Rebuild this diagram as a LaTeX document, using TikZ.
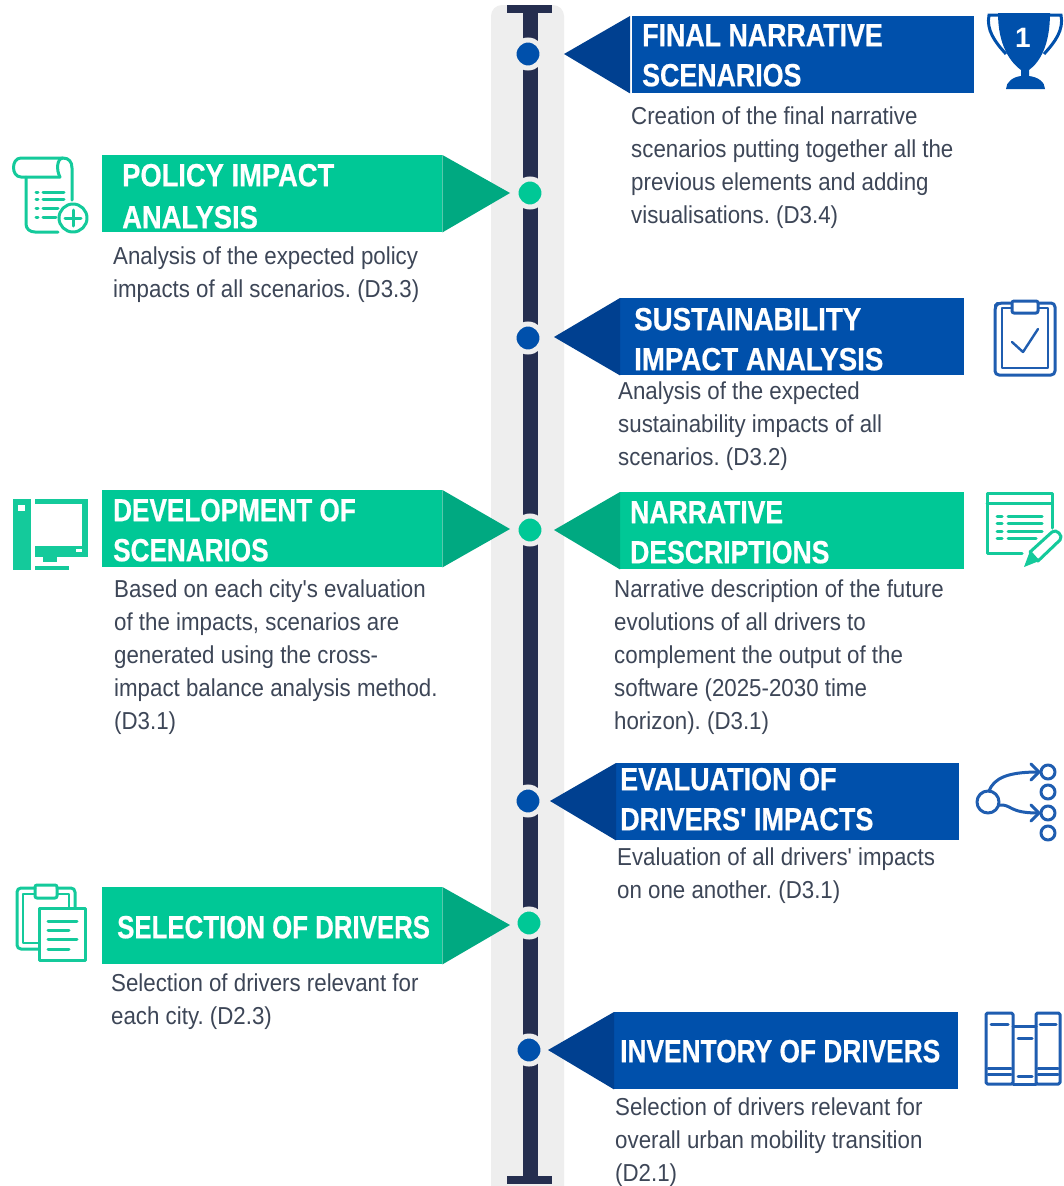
\documentclass[tikz,border=0pt]{standalone}
\usepackage{fontspec}
\setmainfont{Liberation Sans}
\newfontfamily\ttlfont[FakeBold=0.6]{Liberation Sans}
\newfontfamily\bodyfont[FakeStretch=0.91]{Liberation Sans}
\definecolor{bluemain}{HTML}{0050AB}
\definecolor{bluedark}{HTML}{004090}
\definecolor{greenmain}{HTML}{00C896}
\definecolor{greendark}{HTML}{00A981}
\definecolor{spinecol}{HTML}{252E4F}
\definecolor{bandcol}{HTML}{EEEEEE}
\definecolor{bodycol}{HTML}{3D4657}
\definecolor{iconblue}{HTML}{1F5DB0}
\definecolor{icongreen}{HTML}{14CA9B}
\tikzset{
  x=1pt,y=-1pt,
  spineline/.style={draw=spinecol,line width=15pt},
  capline/.style={draw=spinecol,line width=8pt},
  dotblue/.style={circle,fill=bluemain,draw=bandcol,line width=5pt,minimum size=28pt,inner sep=0pt},
  dotgreen/.style={circle,fill=greenmain,draw=bandcol,line width=5pt,minimum size=28pt,inner sep=0pt},
  bannerbox/.style={anchor=north west,minimum width=#1,minimum height=77pt,inner sep=0pt},
  blueban/.style={bannerbox=#1,fill=bluemain},
  greenban/.style={bannerbox=#1,fill=greenmain},
  titletext/.style={anchor=north west,inner sep=0pt,text=white,align=left,
    font=\ttlfont\bfseries\addfontfeature{FakeStretch=#1}\fontsize{32}{40}\selectfont},
  desctext/.style={anchor=north west,inner sep=0pt,text=bodycol,align=left,
    font=\bodyfont\fontsize{24.5}{33}\selectfont\frenchspacing},
  blueicon/.style={draw=iconblue,line width=3pt,line join=round,line cap=round},
  greenicon/.style={draw=icongreen,line width=3pt,line join=round,line cap=round},
}
% first-line struts: fix the top of each text at baseline minus strut height
\newcommand{\tst}{\rule{0pt}{26pt}}
\newcommand{\dst}{\rule{0pt}{20pt}}
\begin{document}
\begin{tikzpicture}
\useasboundingbox (0,0) rectangle (1063,1186);
\fill[white] (0,0) rectangle (1063,1186);
% central band
\fill[bandcol,rounded corners=11pt] (491,5) rectangle (564,1200);
% spine
\coordinate (spinetop) at (530,9);
\coordinate (spinebot) at (530,1180);
\coordinate (captl) at (507,9);
\coordinate (captr) at (552,9);
\coordinate (capbl) at (507,1180);
\coordinate (capbr) at (552,1180);
\draw[spineline] (spinetop) -- (spinebot);
\draw[capline] (captl) -- (captr);
\draw[capline] (capbl) -- (capbr);
\node[dotblue] (d1) at (528,54) {};
\node[dotgreen] (d2) at (530,193) {};
\node[dotblue] (d3) at (528,338) {};
\node[dotgreen] (d4) at (530,530) {};
\node[dotblue] (d5) at (528,801) {};
\node[dotgreen] (d6) at (529,923) {};
\node[dotblue] (d7) at (529,1050) {};

% banners
\node[blueban=342pt] (b1) at (632,16) {};
\fill[bluedark] (b1.north west)++(-2,0) -- (564,54) -- ([xshift=-2pt]b1.south west) -- cycle;
\node[titletext=0.837] (t1) at (642,20) {\tst FINAL NARRATIVE\\SCENARIOS};
\node[desctext] (x1) at (631,104) {\dst Creation of the final narrative\\scenarios putting together all the\\previous elements and adding\\visualisations. (D3.4)};

\node[greenban=340pt] (b2) at (102,155) {};
\fill[greendark] (b2.north east) -- (510,193) -- (b2.south east) -- cycle;
\node[titletext=0.854] (t2) at (122,160) {\tst POLICY IMPACT\\[2pt]ANALYSIS};
\node[desctext] (x2) at (113,244) {\dst Analysis of the expected policy\\impacts of all scenarios. (D3.3)};

\node[blueban=344pt] (b3) at (620,298) {};
\fill[bluedark] (b3.north west) -- (554,337) -- (b3.south west) -- cycle;
\node[titletext=0.865] (t3) at (634,304) {\tst SUSTAINABILITY\\IMPACT ANALYSIS};
\node[desctext] (x3) at (618,379) {\dst Analysis of the expected\\sustainability impacts of all\\scenarios. (D3.2)};

\node[greenban=344pt] (b4) at (620,492) {};
\fill[greendark] (b4.north west) -- (554,530) -- (b4.south west) -- cycle;
\node[titletext=0.83] (t4) at (630,497) {\tst NARRATIVE\\DESCRIPTIONS};
\node[desctext] (x4) at (614,577) {\dst Narrative description of the future\\evolutions of all drivers to\\complement the output of the\\software (2025-2030 time\\horizon). (D3.1)};

\node[greenban=340pt] (b5) at (102,490) {};
\fill[greendark] (b5.north east) -- (510,529) -- (b5.south east) -- cycle;
\node[titletext=0.817] (t5) at (113,495) {\tst DEVELOPMENT OF\\SCENARIOS};
\node[desctext] (x5) at (114,577) {\dst Based on each city's evaluation\\of the impacts, scenarios are\\generated using the cross-\\impact balance analysis method.\\(D3.1)};

\node[blueban=343pt] (b6) at (616,763) {};
\fill[bluedark] (b6.north west) -- (550,801) -- (b6.south west) -- cycle;
\node[titletext=0.843] (t6) at (620,764) {\tst EVALUATION OF\\DRIVERS' IMPACTS};
\node[desctext] (x6) at (617,845) {\dst Evaluation of all drivers' impacts\\on one another. (D3.1)};

\node[greenban=340pt] (b7) at (102,887) {};
\fill[greendark] (b7.north east) -- (510,925) -- (b7.south east) -- cycle;
\node[titletext=0.807] (t7) at (117,912) {\tst SELECTION OF DRIVERS};
\node[desctext] (x7) at (111,971) {\dst Selection of drivers relevant for\\each city. (D2.3)};

\node[blueban=344pt] (b8) at (614,1012) {};
\fill[bluedark] (b8.north west) -- (548,1050) -- (b8.south west) -- cycle;
\node[titletext=0.822] (t8) at (620,1036) {\tst INVENTORY OF DRIVERS};
\node[desctext] (x8) at (615,1095) {\dst Selection of drivers relevant for\\overall urban mobility transition\\(D2.1)};

% trophy icon
\fill[bluemain] (998,13) -- (1050,13) .. controls (1050,45) and (1040,62) .. (1029,70) -- (1029,76) .. controls (1038,77) and (1045,82) .. (1045,89) -- (1006,89) .. controls (1006,82) and (1013,77) .. (1021,76) -- (1021,70) .. controls (1010,62) and (998,45) .. (998,13) -- cycle;
\draw[draw=bluemain,line width=3pt] (998,15) -- (989,15) .. controls (986,30) and (995,42) .. (1006,54);
\draw[draw=bluemain,line width=3pt] (1050,15) -- (1061,15) .. controls (1064,30) and (1055,42) .. (1044,54);
\node[text=white,font=\bfseries\fontsize{28}{28}\selectfont,inner sep=0pt] (trophyone) at (1023,38) {1};

% scroll icon
\draw[greenicon] (26,177) -- (26,224) .. controls (26,229) and (30,232) .. (35,232) -- (58,232);
\draw[greenicon] (60,177) -- (21,177) .. controls (11,177) and (11,158) .. (21,158) -- (63,158) .. controls (69,158) and (72,162) .. (72,168) -- (72,200);
\draw[greenicon] (60,177) .. controls (56,170) and (57,158) .. (63,158);
\draw[greenicon] (36,192) -- (38,192) (43,192) -- (64,192) (36,199) -- (38,199) (43,199) -- (64,199) (36,208) -- (38,208) (43,208) -- (58,208) (36,217) -- (38,217) (43,217) -- (56,217);
\draw[greenicon,fill=white] (73,218) circle (14pt);
\draw[greenicon] (65,218) -- (81,218) (73,210) -- (73,226);

% clipboard-check icon
\draw[blueicon,rounded corners=4pt] (1012,303) -- (998,303) -- (995,306) -- (995,375) -- (1055,375) -- (1055,303) -- (1038,303);
\draw[blueicon,line width=2.4pt] (1012,308) -- (1002,308) -- (1002,368) -- (1048,368) -- (1048,308) -- (1038,308);
\draw[blueicon,fill=white,rounded corners=2pt] (1012,301) rectangle (1038,313);
\draw[blueicon,line width=2.4pt] (1012,342) -- (1023,352) -- (1038,329);

% form-and-pencil icon
\draw[greenicon] (1052,528) -- (1052,493) -- (987,493) -- (987,553) -- (1022,553);
\draw[greenicon] (987,503) -- (1052,503);
\draw[greenicon] (997,516) -- (1002,516) (1008,516) -- (1042,516) (997,523) -- (1002,523) (1008,523) -- (1042,523) (997,531) -- (1002,531) (1008,531) -- (1042,531) (997,538) -- (1002,538) (1008,538) -- (1036,538);
\draw[greenicon,fill=white] (1030,552) -- (1052,532) .. controls (1056,528) and (1064,536) .. (1060,540) -- (1038,561) -- cycle;
\fill[icongreen] (1024,567) -- (1030,551) -- (1039,561) -- cycle;

% computer icon
\fill[icongreen] (13,499) rectangle (31,570);
\fill[white] (18,505) rectangle (25,511);
\fill[icongreen] (35,499) rectangle (88,557);
\fill[white] (35,504) rectangle (82,546);
\fill[white] (76,549) rectangle (82,552);
\fill[icongreen] (43,557) rectangle (57,562);
\fill[icongreen] (35,566) rectangle (69,570);

% flow icon
\draw[blueicon] (988,802) circle (11pt);
\foreach \yy in {772,792,813,833} \draw[blueicon] (1048,\yy) circle (7pt);
\draw[blueicon] (989,791) .. controls (994,778) and (1008,772) .. (1038,772);
\draw[blueicon] (1031,764) -- (1039,772) -- (1031,780);
\draw[blueicon] (999,805) .. controls (1012,804) and (1008,813) .. (1038,813);
\draw[blueicon] (1031,805) -- (1039,813) -- (1031,821);

% clipboards icon
\draw[greenicon,rounded corners=4pt] (35,888) -- (17,888) -- (17,949) -- (39,949);
\draw[greenicon,line width=2.4pt] (35,894) -- (23,894) -- (23,943) -- (39,943);
\draw[greenicon,rounded corners=4pt] (57,888) -- (75,888) -- (75,908);
\draw[greenicon,line width=2.4pt] (57,894) -- (69,894) -- (69,908);
\draw[greenicon,rounded corners=2pt] (35,885) rectangle (57,898);
\draw[greenicon,fill=white] (39,908) rectangle (85,960);
\draw[greenicon] (48,921) -- (77,921) (48,930) -- (69,930) (48,939) -- (77,939) (48,949) -- (69,949);

% books icon
\draw[blueicon,rounded corners=1.5pt] (986,1013) rectangle (1013,1084);
\draw[blueicon,rounded corners=1.5pt] (1036,1013) rectangle (1060,1084);
\draw[blueicon] (1013,1026) -- (1036,1026) (1013,1084) -- (1036,1084);
\draw[blueicon] (991,1024) -- (1008,1024) (988,1068) -- (1011,1068) (988,1074) -- (1011,1074);
\draw[blueicon] (1018,1038) -- (1032,1038) (1018,1076) -- (1032,1076);
\draw[blueicon] (1040,1024) -- (1056,1024) (1038,1068) -- (1058,1068) (1038,1074) -- (1058,1074);
\end{tikzpicture}
\end{document}
